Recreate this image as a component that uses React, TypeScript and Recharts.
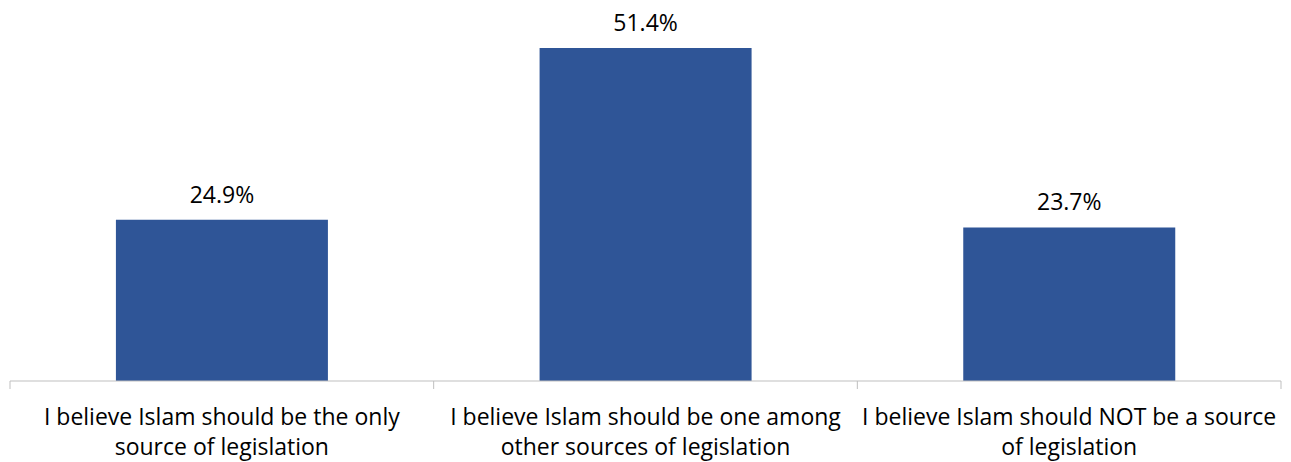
import { BarChart, Bar, XAxis, YAxis, LabelList } from 'recharts';

const categories = [
  'I believe Islam should be the only source of legislation',
  'I believe Islam should be one among other sources of legislation',
  'I believe Islam should NOT be a source of legislation',
];
const labelLines = [
  ['I believe Islam should be the only', 'source of legislation'],
  ['I believe Islam should be one among', 'other sources of legislation'],
  ['I believe Islam should NOT be a source', 'of legislation'],
];
const shares = [24.9, 51.4, 23.7];

const data = categories.map((name, i) => ({ name, value: shares[i] }));

const FONT = '"Open Sans", Lato, sans-serif';

function CategoryTick(props: any) {
  const { x, y, payload, index } = props;
  const half = payload.offset ?? 0;
  const lines = labelLines[index] ?? [String(payload.value)];
  return (
    <g>
      <line x1={x - half} x2={x - half} y1={y} y2={y + 8} stroke="#bfbfbf" strokeWidth={1} />
      {index === categories.length - 1 && (
        <line x1={x + half} x2={x + half} y1={y} y2={y + 8} stroke="#bfbfbf" strokeWidth={1} />
      )}
      <text x={x} y={y} textAnchor="middle" fill="#000" fontSize={23} fontFamily={FONT}>
        {lines.map((l: string, i: number) => (
          <tspan key={i} x={x} dy={i === 0 ? 44 : 30}>
            {l}
          </tspan>
        ))}
      </text>
    </g>
  );
}

export default function App() {
  return (
    <div style={{ position: 'absolute', left: 0, top: 0, width: 1291, height: 462, background: '#fff' }}>
      <BarChart
        width={1291}
        height={462}
        data={data}
        margin={{ top: 48, right: 10, bottom: 0, left: 10 }}
        barCategoryGap="25%"
      >
        <XAxis
          dataKey="name"
          height={81}
          axisLine={{ stroke: '#bfbfbf' }}
          tickLine={false}
          tickSize={0}
          tickMargin={0}
          interval={0}
          tick={<CategoryTick />}
        />
        <YAxis hide domain={[0, 51.4]} />
        <Bar dataKey="value" fill="#2f5597" isAnimationActive={false}>
          <LabelList
            dataKey="value"
            position="top"
            offset={17}
            formatter={(v: any) => `${Number(v).toFixed(1)}%`}
            fill="#000"
            fontSize={23}
            fontFamily={FONT}
          />
        </Bar>
      </BarChart>
    </div>
  );
}
